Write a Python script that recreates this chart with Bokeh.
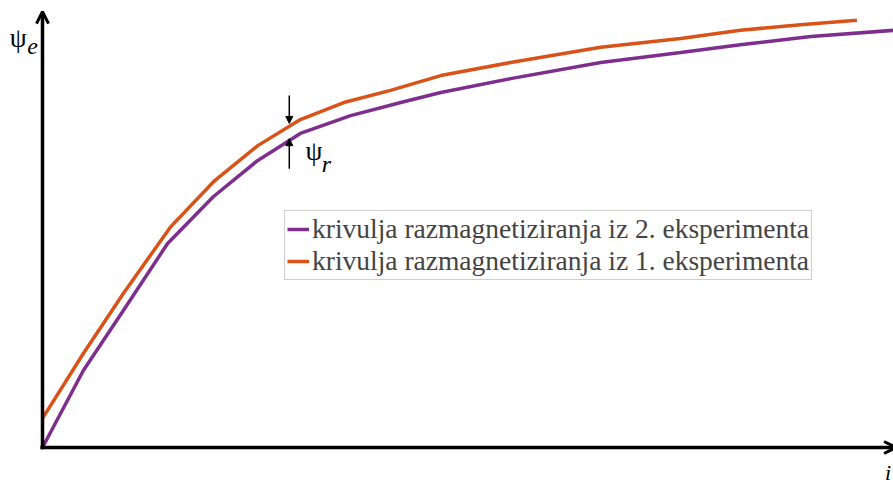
from bokeh.plotting import figure
from bokeh.models import Range1d, Arrow, OpenHead, NormalHead, Label, Legend, LegendItem
from bokeh.embed import file_html
from bokeh.resources import INLINE

# data (arbitrary units: current i 0..100, flux linkage psi 0..1)
i_exp2 = [0, 4.8, 9.5, 14.7, 20.1, 25.3, 30.3, 36.2, 42.1, 46.8, 55.0, 65.6, 75.0, 82.0, 90.3, 100.0]
psi_exp2 = [0, 0.177, 0.315, 0.469, 0.577, 0.660, 0.722, 0.763, 0.793, 0.816, 0.848, 0.885, 0.908, 0.926, 0.945, 0.959]
i_exp1 = [0, 4.8, 9.5, 15.0, 20.1, 25.3, 30.3, 35.4, 40.9, 46.8, 55.0, 65.6, 75.0, 82.0, 89.1, 95.7]
psi_exp1 = [0.067, 0.216, 0.354, 0.506, 0.611, 0.694, 0.754, 0.793, 0.821, 0.855, 0.885, 0.920, 0.940, 0.959, 0.972, 0.982]
label_exp2 = "krivulja razmagnetiziranja iz 2. eksperimenta"
label_exp1 = "krivulja razmagnetiziranja iz 1. eksperimenta"
i_r = 29.0  # position of the remanent flux marker

PURPLE = "#7E2F8E"
ORANGE = "#D95319"
SERIF = "'Times New Roman', 'Liberation Serif', serif"

p = figure(width=893, height=493, output_backend="svg", toolbar_location=None,
           x_range=Range1d(-4.935, 100.0), y_range=Range1d(-0.1057, 1.0276),
           min_border=0, min_border_left=0, min_border_right=0,
           min_border_top=0, min_border_bottom=0)
p.xaxis.visible = False
p.yaxis.visible = False
p.xgrid.visible = False
p.ygrid.visible = False
p.outline_line_color = None
p.background_fill_color = "white"
p.border_fill_color = "white"

# axes drawn as arrows
p.add_layout(Arrow(end=OpenHead(size=12, line_width=3, line_color="black"),
                   x_start=0, y_start=-0.004, x_end=0, y_end=1.002,
                   line_width=3.5, line_color="black"))
p.add_layout(Arrow(end=OpenHead(size=12, line_width=3, line_color="black"),
                   x_start=-0.25, y_start=0, x_end=100.3, y_end=0,
                   line_width=3.5, line_color="black"))

r2 = p.line(i_exp2, psi_exp2, line_color=PURPLE, line_width=3.5)
r1 = p.line(i_exp1, psi_exp1, line_color=ORANGE, line_width=3.5)

# psi_r markers
p.add_layout(Arrow(end=NormalHead(size=7, fill_color="black", line_color="black"),
                   x_start=i_r, y_start=0.809, x_end=i_r, y_end=0.745,
                   line_width=1.5, line_color="black"))
p.add_layout(Arrow(end=NormalHead(size=7, fill_color="black", line_color="black"),
                   x_start=i_r, y_start=0.641, x_end=i_r, y_end=0.710,
                   line_width=1.5, line_color="black"))

def lab(x, y, text, size, style="normal"):
    p.add_layout(Label(x=x, y=y, text=text, text_font=SERIF, text_font_size=size,
                       text_font_style=style, text_baseline="top", text_align="left",
                       text_color="black"))

lab(-3.85, 0.977, "ψ", "27px")
lab(-1.8, 0.940, "e", "24px", "italic")
lab(30.9, 0.716, "ψ", "27px")
lab(32.8, 0.681, "r", "24px", "italic")
lab(99.0, -0.028, "i", "22px", "italic")

legend = Legend(items=[LegendItem(label=label_exp2, renderers=[r2]),
                       LegendItem(label=label_exp1, renderers=[r1])],
                location=(284, 213), label_text_font=SERIF, label_text_font_size="27.5px",
                label_text_line_height=1.08,
                glyph_width=22, glyph_height=30, label_height=30, label_standoff=3,
                spacing=0, padding=2, margin=0,
                border_line_color="#a0a0a0", border_line_width=1,
                background_fill_color="white", background_fill_alpha=1.0)
p.add_layout(legend)

open("out.html", "w").write(file_html(p, INLINE))
